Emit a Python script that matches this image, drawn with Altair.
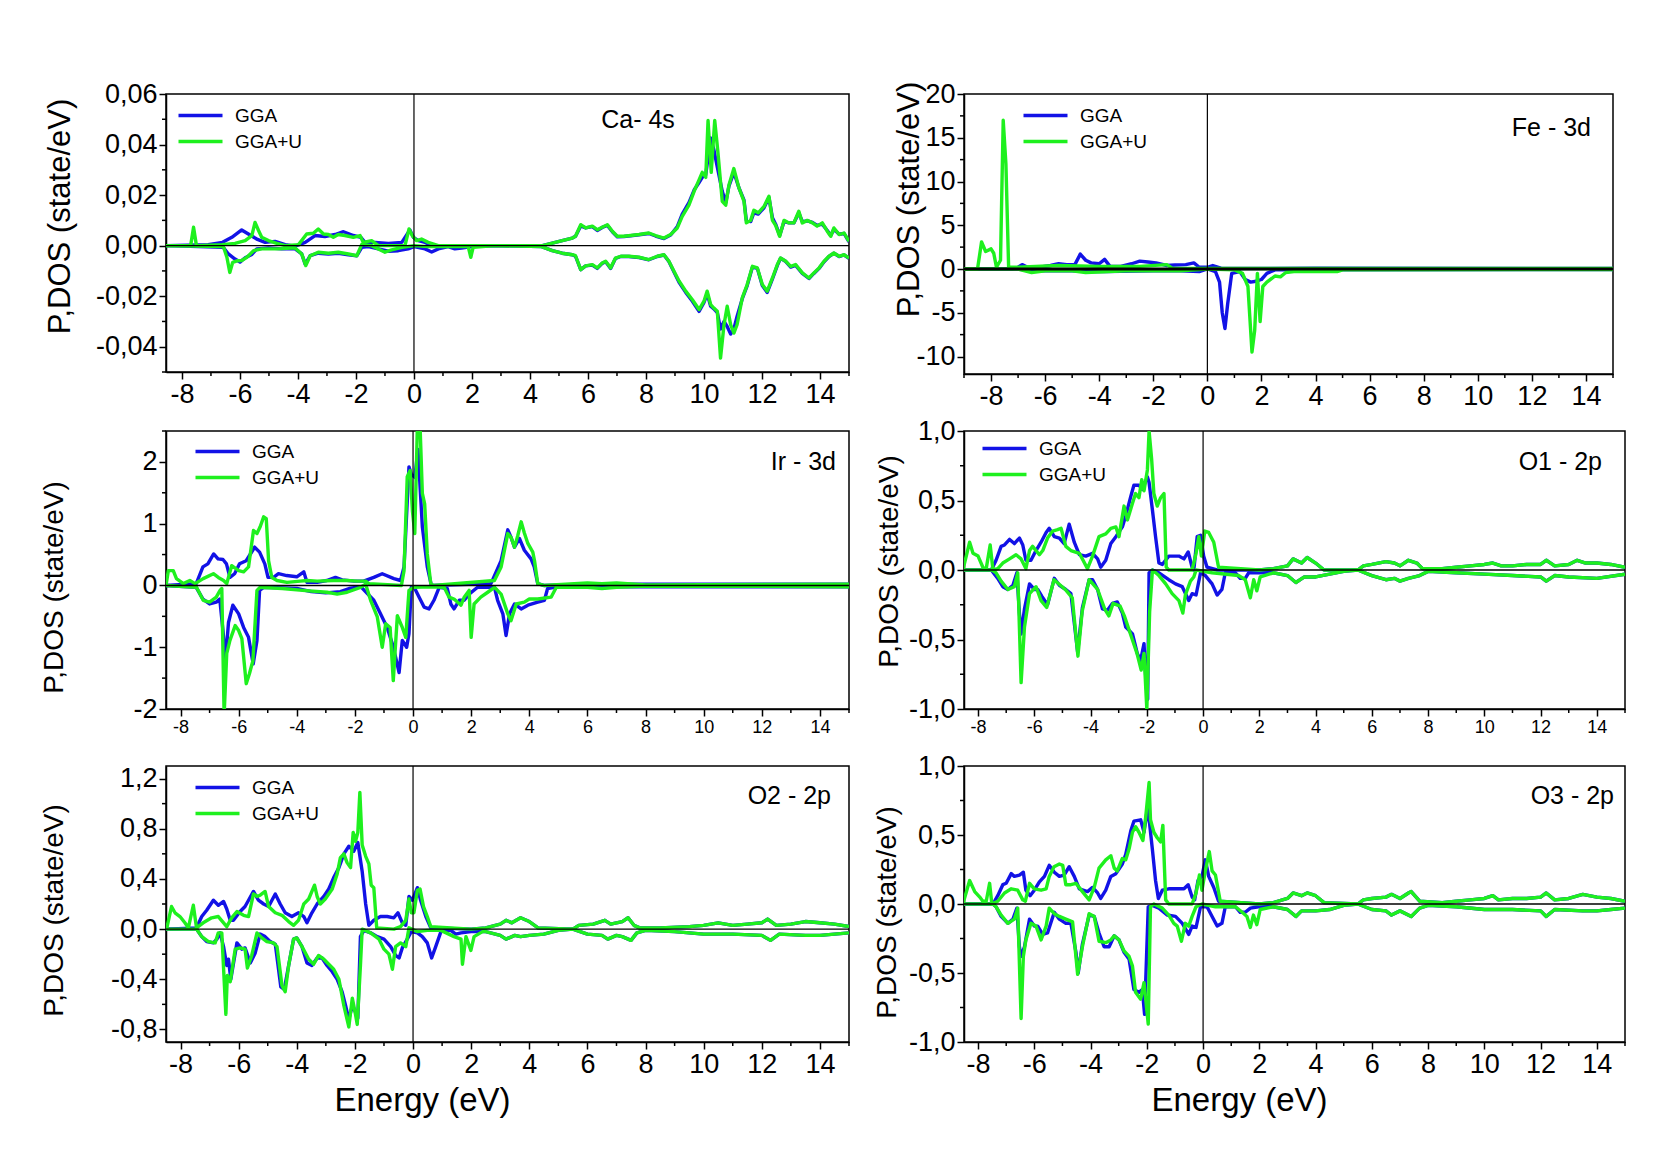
import altair as alt
import pandas as pd

BLUE = "#1212e6"
GREEN = "#1ef01e"
NARROW = "Liberation Sans Narrow, Arial Narrow, Liberation Sans, sans-serif"
REG = "Liberation Sans, Arial, sans-serif"
METHODS = ["GGA", "GGA+U"]

# ---------------- Ca - 4s ----------------
CA_GGA_UP = [[-8.55,0],[-7.1,0.0004],[-6.6,0.0013],[-6.28,0.0033],[-5.94,0.0062],[-5.71,0.0046],[-5.42,0.0026],[-5.13,0.0013],[-4.79,0.0017],[-4.44,0.0004],[-4.1,-0.0002],[-3.75,0.0013],[-3.41,0.004],[-3.07,0.0036],[-2.72,0.0044],[-2.43,0.0055],[-2.09,0.004],[-1.83,0.0033],[-1.69,0.0013],[-1.34,0.0013],[-0.88,0.0009],[-0.42,0.0013],[-0.14,0.0062],[-0.02,0.0033],[0.15,0.002],[0.38,0.0013],[0.61,0],[4.43,0],[4.77,0.001],[5.11,0.002],[5.46,0.003],[5.57,0.0037],[5.75,0.0078],[5.92,0.007],[6.15,0.0075],[6.32,0.006],[6.49,0.0072],[6.67,0.008],[6.84,0.0055],[7.01,0.0035],[7.24,0.0036],[7.47,0.0039],[7.76,0.0043],[8.1,0.0048],[8.33,0.0038],[8.62,0.0028],[8.85,0.0042],[9.08,0.0075],[9.25,0.0125],[9.48,0.017],[9.66,0.022],[9.83,0.025],[9.94,0.027],[10.06,0.028],[10.23,0.0426],[10.34,0.038],[10.46,0.031],[10.63,0.0215],[10.75,0.017],[10.86,0.0235],[11.03,0.029],[11.2,0.023],[11.38,0.018],[11.46,0.01],[11.61,0.0095],[11.72,0.013],[11.87,0.0125],[12.07,0.015],[12.24,0.019],[12.36,0.011],[12.47,0.0085],[12.61,0.004],[12.76,0.0095],[12.93,0.009],[13.1,0.009],[13.27,0.013],[13.39,0.0095],[13.56,0.0098],[13.74,0.0092],[13.9,0.008],[14.08,0.0085],[14.25,0.006],[14.37,0.004],[14.48,0.0065],[14.66,0.0045],[14.83,0.0048],[15.0,0.0015]]
CA_GGAU_UP = [[-8.55,0],[-7.7,0],[-7.6,0.0073],[-7.5,0],[-6.62,0.0004],[-6.17,0.0009],[-5.82,0.002],[-5.59,0.004],[-5.48,0.0092],[-5.36,0.006],[-5.25,0.0033],[-5.02,0.002],[-4.73,0.0009],[-4.44,0],[-3.98,0.0004],[-3.7,0.0046],[-3.47,0.0049],[-3.3,0.0066],[-3.12,0.0046],[-2.95,0.0044],[-2.78,0.0033],[-2.61,0.0044],[-2.38,0.004],[-2.09,0.0033],[-1.86,0.004],[-1.75,0.0013],[-1.46,0.002],[-1.23,0],[-0.31,0],[-0.17,0.0066],[-0.06,0.004],[0.09,0.002],[0.26,0.0026],[0.49,0.0013],[0.84,0],[4.43,0],[4.77,0.001],[5.11,0.002],[5.46,0.003],[5.57,0.0037],[5.75,0.0083],[5.92,0.007],[6.15,0.0077],[6.32,0.0063],[6.49,0.0073],[6.67,0.0083],[6.84,0.0057],[7.01,0.0037],[7.24,0.0037],[7.47,0.004],[7.76,0.0044],[8.1,0.005],[8.33,0.004],[8.62,0.003],[8.85,0.0044],[9.08,0.007],[9.25,0.0116],[9.48,0.016],[9.66,0.0215],[9.83,0.026],[9.94,0.029],[10.06,0.027],[10.14,0.0495],[10.25,0.029],[10.37,0.0495],[10.48,0.037],[10.63,0.0175],[10.75,0.016],[10.86,0.024],[11.03,0.0305],[11.2,0.023],[11.38,0.0175],[11.46,0.009],[11.61,0.01],[11.72,0.014],[11.87,0.013],[12.07,0.0155],[12.24,0.0195],[12.36,0.01],[12.47,0.008],[12.61,0.0037],[12.76,0.01],[12.93,0.009],[13.1,0.009],[13.27,0.0136],[13.39,0.009],[13.56,0.01],[13.74,0.009],[13.9,0.0077],[14.08,0.009],[14.25,0.0057],[14.37,0.0037],[14.48,0.007],[14.66,0.0044],[14.83,0.005],[15.0,0.0017]]
CA_GGA_DN = [[-8.55,0],[-6.57,-0.0007],[-6.4,-0.0033],[-6.17,-0.0053],[-6.0,-0.0065],[-5.82,-0.0048],[-5.59,-0.0035],[-5.42,-0.0013],[-5.02,-0.0009],[-4.56,-0.0013],[-4.1,-0.0013],[-3.87,-0.0033],[-3.75,-0.0073],[-3.58,-0.004],[-3.3,-0.003],[-2.95,-0.0033],[-2.61,-0.003],[-2.26,-0.0036],[-1.97,-0.004],[-1.8,-0.0007],[-1.57,-0.0004],[-1.23,-0.0013],[-0.88,-0.0022],[-0.54,-0.002],[-0.2,-0.0013],[0,-0.0004],[0.38,-0.0013],[0.61,-0.0025],[0.84,-0.0013],[1.18,-0.0004],[1.41,-0.0013],[1.64,-0.001],[1.99,-0.0004],[2.79,0],[4.4,-0.0004],[4.77,-0.002],[5.11,-0.003],[5.46,-0.0036],[5.57,-0.0042],[5.75,-0.0095],[5.92,-0.008],[6.15,-0.0077],[6.32,-0.009],[6.49,-0.007],[6.61,-0.0064],[6.78,-0.009],[6.95,-0.005],[7.13,-0.0043],[7.41,-0.0043],[7.76,-0.0047],[8.1,-0.0056],[8.39,-0.0043],[8.62,-0.0037],[8.79,-0.0063],[8.97,-0.0105],[9.14,-0.0145],[9.37,-0.0185],[9.6,-0.022],[9.83,-0.026],[10.0,-0.0225],[10.11,-0.019],[10.23,-0.024],[10.34,-0.025],[10.46,-0.0265],[10.57,-0.033],[10.69,-0.03],[10.8,-0.032],[10.92,-0.035],[11.03,-0.033],[11.14,-0.028],[11.32,-0.021],[11.49,-0.0158],[11.67,-0.0085],[11.84,-0.009],[12.01,-0.0158],[12.18,-0.0185],[12.36,-0.0132],[12.53,-0.0078],[12.64,-0.005],[12.82,-0.0063],[12.99,-0.0085],[13.16,-0.0078],[13.39,-0.011],[13.62,-0.013],[13.79,-0.011],[13.97,-0.009],[14.14,-0.0064],[14.31,-0.0043],[14.48,-0.003],[14.66,-0.0043],[14.83,-0.0037],[15.0,-0.005]]
CA_GGAU_DN = [[-8.55,0],[-6.57,-0.0004],[-6.45,-0.0046],[-6.35,-0.0106],[-6.25,-0.0066],[-6.1,-0.006],[-5.94,-0.0059],[-5.76,-0.0046],[-5.53,-0.002],[-5.25,-0.0013],[-4.67,-0.0013],[-4.1,-0.0009],[-3.87,-0.0033],[-3.73,-0.0079],[-3.58,-0.004],[-3.3,-0.0026],[-2.95,-0.003],[-2.61,-0.0026],[-2.26,-0.0033],[-1.97,-0.004],[-1.8,0.0005],[-1.46,0],[-1.23,-0.0013],[-1.0,-0.0026],[-0.77,-0.0017],[-0.42,-0.0007],[0,0],[0.49,-0.0004],[1.87,-0.0004],[1.96,-0.0046],[2.04,-0.0007],[2.79,0],[4.4,-0.0004],[4.77,-0.002],[5.11,-0.003],[5.46,-0.0036],[5.57,-0.004],[5.75,-0.0095],[5.92,-0.008],[6.15,-0.0075],[6.32,-0.0088],[6.49,-0.0069],[6.61,-0.0062],[6.78,-0.0088],[6.95,-0.0049],[7.13,-0.0042],[7.41,-0.0042],[7.76,-0.0046],[8.1,-0.0055],[8.39,-0.0042],[8.62,-0.0036],[8.79,-0.0062],[8.97,-0.0102],[9.14,-0.014],[9.37,-0.018],[9.6,-0.0214],[9.83,-0.0253],[10.0,-0.022],[10.11,-0.018],[10.23,-0.0233],[10.34,-0.0247],[10.46,-0.026],[10.57,-0.0445],[10.69,-0.0313],[10.8,-0.024],[10.92,-0.0313],[11.03,-0.0346],[11.14,-0.0313],[11.32,-0.0207],[11.49,-0.0154],[11.67,-0.0082],[11.84,-0.0088],[12.01,-0.0154],[12.18,-0.018],[12.36,-0.0128],[12.53,-0.0075],[12.64,-0.0049],[12.82,-0.0062],[12.99,-0.0082],[13.16,-0.0075],[13.39,-0.0108],[13.62,-0.0128],[13.79,-0.0108],[13.97,-0.0088],[14.14,-0.0062],[14.31,-0.0042],[14.48,-0.0029],[14.66,-0.0042],[14.83,-0.0036],[15.0,-0.0049]]

# ---------------- Fe - 3d ----------------
FE_GGA_UP = [[-9,0],[-7.2,0],[-7.0,0.2],[-6.85,0.5],[-6.65,0.2],[-6.2,0.2],[-5.8,0.4],[-5.5,0.6],[-5.2,0.5],[-4.9,0.5],[-4.7,1.7],[-4.5,1.0],[-4.3,0.7],[-4.0,0.6],[-3.8,1.1],[-3.6,0.3],[-3.2,0.3],[-2.8,0.6],[-2.5,0.9],[-2.2,0.8],[-1.9,0.7],[-1.5,0.4],[-1.2,0.45],[-0.8,0.5],[-0.5,0.7],[-0.3,0.2],[0,0.2],[0.2,0.4],[0.5,0.1],[0.8,0.05],[4,0.1],[15,0.05]]
FE_GGA_DN = [[-9,0],[-7,0],[-6.5,-0.2],[-5.0,-0.2],[-4.5,-0.3],[-3.8,-0.3],[-2,-0.2],[-1,-0.2],[-0.3,-0.3],[0,0],[0.3,-0.3],[0.45,-1.5],[0.55,-5],[0.65,-6.8],[0.75,-4],[0.9,-0.5],[1.2,-0.3],[1.4,-1.2],[1.6,-1.5],[1.8,-1.4],[2.0,-1.2],[2.2,-0.5],[2.5,-0.1],[4,-0.1],[15,-0.05]]
FE_GGAU_UP = [[-9,0],[-8.5,0],[-8.35,3.1],[-8.2,2.0],[-8.0,2.3],[-7.9,1.8],[-7.8,0.2],[-7.65,1.0],[-7.55,17],[-7.45,12],[-7.35,0.2],[-7.0,0.2],[-5.5,0.4],[-4,0.3],[-2.5,0.3],[-1.5,0.5],[-1.3,0.1],[0,0.05],[15,0.05]]
FE_GGAU_DN = [[-9,0],[-7,0],[-6.5,-0.4],[-6,-0.2],[-5,-0.2],[-4.5,-0.4],[-3,-0.2],[-1,-0.2],[0,0],[1.0,-0.1],[1.3,-0.5],[1.5,-2],[1.65,-9.5],[1.75,-7],[1.85,-0.5],[1.95,-6],[2.05,-2],[2.2,-1.5],[2.5,-0.8],[2.7,-0.9],[2.9,-0.4],[3.2,-0.3],[4.8,-0.3],[5.0,-0.1],[15,-0.05]]

# ---------------- Ir - 3d ----------------
IR_GGA_UP = [[-8.5,0],[-7.46,0.03],[-7.23,0.3],[-7.06,0.35],[-6.86,0.51],[-6.71,0.43],[-6.54,0.42],[-6.42,0.35],[-6.3,0.13],[-6.14,0.19],[-5.97,0.35],[-5.74,0.4],[-5.45,0.62],[-5.28,0.54],[-5.1,0.35],[-4.99,0.13],[-4.8,0.13],[-4.63,0.19],[-4.35,0.16],[-4.0,0.14],[-3.76,0.22],[-3.65,0.05],[-3.3,0.05],[-2.97,0.08],[-2.67,0.13],[-2.44,0.09],[-2.03,0.07],[-1.7,0.07],[-1.35,0.13],[-1.06,0.19],[-0.66,0.11],[-0.43,0.08],[-0.31,0.3],[-0.14,1.92],[-0.06,1.8],[0.06,1.75],[0.17,2.2],[0.32,0.95],[0.49,0.3],[0.63,0],[2.68,0.03],[3.03,0.4],[3.26,0.9],[3.37,0.78],[3.49,0.62],[3.66,0.76],[3.83,0.57],[4.06,0.43],[4.17,0.3],[4.29,0.03],[4.5,0],[6,0.02],[7,0.02],[15,0.02]]
IR_GGA_DN = [[-8.5,0],[-7.46,-0.03],[-7.23,-0.22],[-7.0,-0.3],[-6.77,-0.27],[-6.65,-0.22],[-6.54,-0.73],[-6.45,-1.2],[-6.35,-0.6],[-6.2,-0.32],[-6.0,-0.46],[-5.83,-0.68],[-5.66,-0.84],[-5.5,-1.27],[-5.37,-0.89],[-5.28,-0.08],[-5.14,-0.03],[-4.0,-0.05],[-3.5,-0.1],[-3.0,-0.12],[-2.5,-0.1],[-2.2,-0.05],[-1.8,-0.02],[-1.35,-0.24],[-1.12,-0.46],[-0.89,-0.68],[-0.71,-0.95],[-0.6,-1.16],[-0.48,-1.41],[-0.37,-0.89],[-0.22,-1.0],[-0.14,-0.78],[-0.06,-0.03],[0.03,-0.02],[0.21,-0.19],[0.38,-0.35],[0.55,-0.38],[0.72,-0.24],[0.9,-0.03],[1.18,-0.05],[1.3,-0.3],[1.41,-0.38],[1.59,-0.24],[1.76,-0.24],[1.93,-0.14],[2.22,-0.03],[2.8,-0.03],[2.91,-0.24],[3.09,-0.46],[3.2,-0.81],[3.32,-0.46],[3.49,-0.3],[3.72,-0.38],[3.95,-0.32],[4.29,-0.27],[4.52,-0.24],[4.63,-0.05],[5,-0.02],[15,-0.02]]
IR_GGAU_UP = [[-8.5,0],[-8.42,0.24],[-8.25,0.24],[-8.14,0.11],[-7.9,0.03],[-7.68,0.08],[-7.5,0.03],[-7.22,0.11],[-6.87,0.19],[-6.7,0.13],[-6.52,0.08],[-6.41,0.03],[-6.24,0.32],[-6.0,0.24],[-5.83,0.22],[-5.66,0.3],[-5.49,0.89],[-5.37,0.84],[-5.26,0.95],[-5.14,1.11],[-5.05,1.08],[-4.97,0.4],[-4.86,0.13],[-4.68,0.08],[-4.34,0.05],[-3.88,0.07],[-3.65,0.08],[-3.3,0.07],[-2.73,0.08],[-2.27,0.08],[-1.92,0.07],[-1.63,0.07],[-1.52,0.03],[-0.4,0],[-0.31,0.24],[-0.2,1.76],[-0.1,1.86],[-0.02,1.2],[0.06,0.84],[0.15,2.6],[0.24,2.6],[0.32,1.49],[0.4,1.32],[0.49,0.51],[0.61,0.03],[0.7,0],[2.8,0.08],[3.03,0.3],[3.26,0.84],[3.37,0.78],[3.49,0.62],[3.6,0.8],[3.72,1.03],[3.83,0.85],[3.95,0.68],[4.12,0.54],[4.18,0.4],[4.29,0.03],[4.5,0],[6,0.04],[6.5,0.03],[7,0.04],[8,0.01],[15,0.02]]
IR_GGAU_DN = [[-8.5,0],[-7.45,-0.03],[-7.22,-0.24],[-7.0,-0.27],[-6.77,-0.19],[-6.64,-0.08],[-6.58,-0.05],[-6.5,-2.1],[-6.41,-1.1],[-6.3,-0.89],[-6.12,-0.65],[-6.0,-0.73],[-5.89,-0.86],[-5.74,-1.59],[-5.63,-1.43],[-5.51,-1.22],[-5.37,-0.08],[-5.26,-0.03],[-4.5,-0.05],[-3.8,-0.08],[-2.96,-0.11],[-2.61,-0.14],[-2.27,-0.11],[-1.81,-0.03],[-1.63,0.02],[-1.46,-0.24],[-1.23,-0.51],[-1.06,-1.0],[-0.94,-0.62],[-0.79,-0.68],[-0.68,-1.54],[-0.54,-0.49],[-0.37,-0.68],[-0.25,-0.84],[-0.14,-0.08],[0.03,-0.03],[0.6,-0.02],[1.07,-0.03],[1.24,-0.19],[1.41,-0.22],[1.65,-0.32],[1.76,-0.19],[1.93,-0.08],[2.0,-0.84],[2.1,-0.3],[2.33,-0.19],[2.57,-0.11],[2.8,-0.03],[3.03,-0.14],[3.26,-0.46],[3.37,-0.57],[3.55,-0.3],[3.83,-0.27],[4.0,-0.22],[4.29,-0.22],[4.75,-0.19],[4.93,-0.03],[6,-0.03],[6.5,-0.05],[7,-0.03],[8,-0.01],[15,-0.02]]

# ---------------- O1 - 2p ----------------
O1_UP_TAIL = [[2.5,0.01],[3.0,0.03],[3.2,0.08],[3.5,0.05],[3.7,0.09],[4.0,0.05],[4.3,0.0],[5.5,0.0],[5.7,0.03],[6.0,0.04],[6.5,0.06],[6.8,0.05],[7.0,0.03],[7.3,0.07],[7.6,0.05],[7.8,0.01],[8.5,0.01],[9.0,0.02],[9.5,0.03],[10.0,0.04],[10.3,0.05],[10.6,0.03],[11.0,0.03],[11.5,0.04],[12.0,0.04],[12.2,0.07],[12.5,0.03],[13.0,0.04],[13.3,0.07],[13.6,0.05],[14.0,0.05],[14.5,0.04],[15.0,0.02]]
O1_DN_TAIL = [[2.5,-0.02],[3.0,-0.04],[3.3,-0.09],[3.6,-0.05],[4.0,-0.05],[4.5,-0.03],[5.0,-0.01],[5.5,0],[6.0,-0.04],[6.5,-0.07],[6.8,-0.06],[7.0,-0.08],[7.3,-0.06],[7.7,-0.04],[8.0,-0.01],[9.0,-0.02],[10.0,-0.03],[11.0,-0.04],[12.0,-0.05],[12.2,-0.08],[12.5,-0.04],[13.0,-0.05],[14.0,-0.06],[15.0,-0.03]]
O1_GGA_UP = [[-8.5,0],[-7.53,0],[-7.36,0.07],[-7.18,0.17],[-7.06,0.18],[-6.88,0.22],[-6.71,0.19],[-6.53,0.23],[-6.41,0.18],[-6.3,0.07],[-6.12,0.07],[-5.94,0.14],[-5.76,0.2],[-5.58,0.27],[-5.47,0.3],[-5.29,0.24],[-5.11,0.23],[-4.94,0.19],[-4.76,0.33],[-4.58,0.2],[-4.4,0.11],[-4.17,0.1],[-3.93,0.12],[-3.75,0.08],[-3.64,0.02],[-3.46,0.07],[-3.28,0.19],[-3.1,0.24],[-2.87,0.31],[-2.75,0.39],[-2.57,0.53],[-2.46,0.61],[-2.28,0.61],[-2.16,0.58],[-1.98,0.67],[-1.92,0.63],[-1.8,0.43],[-1.69,0.24],[-1.57,0.05],[-1.45,0.04],[-1.22,0.1],[-0.86,0.1],[-0.68,0.08],[-0.53,0.13],[-0.39,0.02],[-0.33,0],[-0.21,0.24],[-0.09,0.25],[0.02,0.1],[0.14,0.02],[0.5,0],[2.0,0]]
O1_GGA_DN = [[-8.5,0],[-7.53,0],[-7.3,-0.06],[-7.12,-0.12],[-6.94,-0.14],[-6.76,-0.11],[-6.62,-0.02],[-6.53,-0.31],[-6.47,-0.46],[-6.35,-0.28],[-6.17,-0.1],[-6.0,-0.14],[-5.88,-0.14],[-5.73,-0.19],[-5.53,-0.25],[-5.29,-0.06],[-5.11,-0.11],[-4.88,-0.14],[-4.7,-0.17],[-4.46,-0.59],[-4.29,-0.27],[-4.05,-0.07],[-3.93,-0.07],[-3.75,-0.14],[-3.58,-0.28],[-3.4,-0.29],[-3.22,-0.24],[-3.05,-0.23],[-2.87,-0.31],[-2.75,-0.41],[-2.51,-0.46],[-2.34,-0.6],[-2.22,-0.65],[-2.1,-0.53],[-2.02,-0.84],[-1.97,-0.93],[-1.92,-0.02],[-1.8,0],[-1.57,-0.02],[-1.22,-0.07],[-0.98,-0.1],[-0.74,-0.12],[-0.51,-0.22],[-0.39,-0.17],[-0.25,-0.18],[-0.09,-0.02],[0.08,-0.04],[0.32,-0.1],[0.5,-0.18],[0.67,-0.14],[0.79,-0.02],[1.15,-0.02],[1.32,-0.06],[1.5,-0.06],[1.62,-0.02],[1.97,-0.02]]
O1_GGAU_UP = [[-8.54,0],[-8.3,0.2],[-8.18,0.12],[-8.0,0.1],[-7.83,0.02],[-7.71,0.01],[-7.57,0.18],[-7.47,0],[-7.3,0.01],[-7.12,0.05],[-6.88,0.08],[-6.65,0.11],[-6.47,0.08],[-6.3,0.01],[-6.17,0.14],[-6.06,0.17],[-5.82,0.11],[-5.7,0.14],[-5.53,0.23],[-5.35,0.28],[-5.17,0.29],[-5.05,0.3],[-4.88,0.17],[-4.7,0.14],[-4.4,0.12],[-4.11,0.01],[-3.93,0.1],[-3.7,0.24],[-3.46,0.26],[-3.28,0.3],[-3.1,0.31],[-2.99,0.24],[-2.81,0.46],[-2.69,0.36],[-2.51,0.48],[-2.4,0.55],[-2.28,0.52],[-2.18,0.65],[-2.1,0.57],[-1.98,0.72],[-1.92,1.0],[-1.83,0.8],[-1.75,0.55],[-1.63,0.46],[-1.51,0.52],[-1.39,0.55],[-1.31,0.02],[-1.22,0],[-0.39,0],[-0.25,0.12],[-0.15,0.24],[-0.06,0.1],[0.06,0.28],[0.2,0.27],[0.38,0.2],[0.55,0.02],[2.0,0]]
O1_GGAU_DN = [[-8.5,0],[-7.5,0],[-7.36,-0.02],[-7.18,-0.08],[-6.94,-0.14],[-6.71,-0.12],[-6.59,-0.02],[-6.47,-0.81],[-6.35,-0.41],[-6.17,-0.17],[-5.94,-0.12],[-5.76,-0.22],[-5.56,-0.27],[-5.3,-0.07],[-4.9,-0.14],[-4.65,-0.2],[-4.45,-0.62],[-4.3,-0.3],[-4.05,-0.07],[-3.75,-0.14],[-3.5,-0.28],[-3.35,-0.33],[-3.2,-0.24],[-2.95,-0.26],[-2.8,-0.33],[-2.6,-0.45],[-2.35,-0.6],[-2.2,-0.72],[-2.1,-0.6],[-2.0,-1.0],[-1.9,-0.3],[-1.8,0],[-1.57,-0.04],[-1.33,-0.1],[-1.1,-0.17],[-0.86,-0.22],[-0.72,-0.31],[-0.63,-0.18],[-0.45,-0.08],[-0.33,-0.05],[-0.25,0],[0.32,-0.02],[1.26,-0.04],[1.5,-0.07],[1.68,-0.2],[1.8,-0.07],[1.91,-0.15],[2.03,-0.05]]

# ---------------- O2 - 2p ----------------
O2_UP_TAIL = [[2.5,0.01],[3.0,0.04],[3.2,0.07],[3.4,0.05],[3.7,0.09],[4.0,0.06],[4.3,0.01],[5.5,0.0],[5.7,0.03],[6.2,0.04],[6.6,0.07],[6.8,0.04],[7.2,0.06],[7.4,0.09],[7.6,0.03],[7.8,0.01],[8.5,0.01],[9.5,0.02],[10.0,0.03],[10.5,0.05],[11.0,0.03],[11.5,0.04],[12.0,0.05],[12.2,0.08],[12.5,0.03],[13.0,0.04],[13.5,0.06],[14.0,0.05],[14.5,0.04],[15.0,0.02]]
O2_DN_TAIL = [[2.5,-0.02],[3.0,-0.05],[3.2,-0.08],[3.5,-0.05],[3.7,-0.06],[4.0,-0.05],[4.5,-0.04],[5.0,-0.01],[5.5,0],[6.0,-0.04],[6.5,-0.05],[6.7,-0.08],[7.0,-0.05],[7.2,-0.06],[7.5,-0.09],[7.7,-0.03],[8.0,-0.01],[9.0,-0.02],[10.0,-0.04],[11.0,-0.04],[12.0,-0.05],[12.3,-0.09],[12.6,-0.04],[13.5,-0.05],[14.0,-0.05],[14.5,-0.04],[15.0,-0.03]]
O2_GGA_UP = [[-8.5,0],[-7.45,0.01],[-7.27,0.1],[-7.1,0.15],[-6.87,0.23],[-6.7,0.19],[-6.52,0.22],[-6.41,0.16],[-6.29,0.07],[-6.18,0.07],[-5.95,0.14],[-5.78,0.18],[-5.66,0.23],[-5.49,0.3],[-5.32,0.23],[-5.14,0.2],[-4.97,0.18],[-4.74,0.28],[-4.57,0.2],[-4.4,0.13],[-4.17,0.1],[-3.94,0.13],[-3.76,0.1],[-3.65,0.05],[-3.48,0.13],[-3.3,0.2],[-3.07,0.26],[-2.9,0.32],[-2.73,0.41],[-2.55,0.49],[-2.38,0.6],[-2.21,0.66],[-2.04,0.62],[-1.9,0.69],[-1.75,0.46],[-1.63,0.2],[-1.52,0.03],[-1.35,0.07],[-1.12,0.1],[-0.89,0.1],[-0.66,0.09],[-0.52,0.13],[-0.37,0.05],[-0.25,0.03],[-0.14,0.26],[-0.02,0.23],[0.15,0.33],[0.26,0.23],[0.44,0.1],[0.61,0.01],[2.0,0]]
O2_GGA_DN = [[-8.5,0],[-7.45,0],[-7.27,-0.06],[-7.1,-0.1],[-6.87,-0.11],[-6.75,-0.08],[-6.64,-0.03],[-6.52,-0.14],[-6.41,-0.29],[-6.35,-0.24],[-6.27,-0.4],[-6.06,-0.11],[-5.89,-0.16],[-5.78,-0.15],[-5.6,-0.27],[-5.43,-0.19],[-5.26,-0.04],[-5.09,-0.06],[-4.91,-0.1],[-4.74,-0.12],[-4.55,-0.46],[-4.43,-0.48],[-4.28,-0.29],[-4.11,-0.08],[-4.0,-0.07],[-3.82,-0.14],[-3.65,-0.27],[-3.48,-0.29],[-3.3,-0.23],[-3.13,-0.23],[-2.96,-0.29],[-2.78,-0.34],[-2.61,-0.4],[-2.44,-0.5],[-2.32,-0.61],[-2.21,-0.72],[-2.09,-0.61],[-1.98,-0.66],[-1.9,-0.71],[-1.81,-0.06],[-1.69,-0.01],[-1.46,-0.03],[-1.23,-0.06],[-1.0,-0.08],[-0.77,-0.14],[-0.6,-0.21],[-0.48,-0.23],[-0.37,-0.15],[-0.2,-0.08],[-0.06,-0.02],[0.15,-0.03],[0.32,-0.06],[0.49,-0.11],[0.64,-0.23],[0.78,-0.14],[0.96,-0.02],[1.3,-0.01],[1.47,-0.04],[1.65,-0.03],[2.0,-0.02]]
O2_GGAU_UP = [[-8.48,0],[-8.31,0.18],[-8.19,0.13],[-8.02,0.1],[-7.85,0.05],[-7.73,0.01],[-7.56,0.19],[-7.45,0.01],[-7.22,0.05],[-6.93,0.09],[-6.7,0.1],[-6.41,0.02],[-6.24,0.09],[-6.06,0.14],[-5.83,0.11],[-5.66,0.1],[-5.49,0.28],[-5.37,0.26],[-5.26,0.27],[-5.09,0.3],[-4.97,0.18],[-4.74,0.13],[-4.51,0.11],[-4.28,0.06],[-4.11,0.03],[-3.94,0.07],[-3.76,0.2],[-3.59,0.24],[-3.39,0.35],[-3.3,0.26],[-3.19,0.2],[-3.02,0.24],[-2.9,0.28],[-2.78,0.32],[-2.61,0.44],[-2.5,0.57],[-2.38,0.6],[-2.27,0.53],[-2.15,0.49],[-2.06,0.77],[-1.98,0.7],[-1.9,0.77],[-1.83,1.09],[-1.75,0.67],[-1.63,0.58],[-1.52,0.52],[-1.44,0.35],[-1.35,0.33],[-1.25,0.01],[-0.66,0],[-0.43,0.02],[-0.25,0.07],[-0.14,0.24],[-0.06,0.13],[0.03,0.13],[0.15,0.31],[0.24,0.32],[0.36,0.18],[0.49,0.1],[0.61,0.02],[2.0,0]]
O2_GGAU_DN = [[-8.5,0],[-7.45,0],[-7.27,-0.06],[-7.04,-0.1],[-6.81,-0.11],[-6.7,-0.03],[-6.58,-0.03],[-6.44,-0.68],[-6.39,-0.37],[-6.29,-0.42],[-6.12,-0.16],[-5.95,-0.15],[-5.78,-0.16],[-5.7,-0.31],[-5.55,-0.21],[-5.37,-0.03],[-5.2,-0.07],[-5.03,-0.1],[-4.8,-0.11],[-4.68,-0.14],[-4.51,-0.45],[-4.4,-0.5],[-4.28,-0.29],[-4.11,-0.08],[-4.0,-0.07],[-3.82,-0.14],[-3.59,-0.24],[-3.42,-0.28],[-3.25,-0.21],[-3.07,-0.24],[-2.9,-0.28],[-2.73,-0.32],[-2.55,-0.4],[-2.38,-0.61],[-2.21,-0.78],[-2.09,-0.55],[-1.98,-0.68],[-1.92,-0.76],[-1.81,-0.29],[-1.75,0],[-1.46,-0.03],[-1.17,-0.08],[-1.0,-0.16],[-0.83,-0.2],[-0.71,-0.32],[-0.6,-0.14],[-0.43,-0.11],[-0.25,-0.14],[-0.14,0.01],[0.15,-0.02],[0.49,-0.01],[0.96,-0.01],[1.41,-0.06],[1.65,-0.08],[1.7,-0.28],[1.82,-0.06],[1.99,-0.17],[2.1,-0.06],[2.39,-0.02]]

# ---------------- O3 - 2p ----------------
O3_UP_TAIL = [[2.5,0.01],[3.0,0.04],[3.2,0.08],[3.5,0.06],[3.7,0.08],[4.0,0.06],[4.3,0.01],[5.5,0.0],[5.7,0.03],[6.0,0.04],[6.5,0.05],[6.7,0.07],[7.0,0.04],[7.3,0.08],[7.4,0.09],[7.7,0.02],[8.5,0.01],[9.0,0.02],[9.5,0.03],[10.0,0.04],[10.3,0.06],[10.5,0.03],[11.0,0.04],[11.5,0.04],[12.0,0.05],[12.2,0.08],[12.5,0.03],[13.0,0.04],[13.5,0.07],[14.0,0.05],[14.5,0.04],[15.0,0.02]]
O3_DN_TAIL = [[2.5,-0.02],[3.0,-0.04],[3.3,-0.09],[3.5,-0.05],[4.0,-0.05],[4.5,-0.04],[5.0,-0.01],[5.5,0],[6.0,-0.04],[6.5,-0.05],[6.7,-0.08],[7.0,-0.05],[7.4,-0.09],[7.7,-0.03],[8.0,-0.01],[9.0,-0.02],[10.0,-0.04],[11.0,-0.04],[12.0,-0.05],[12.2,-0.09],[12.5,-0.04],[13.5,-0.05],[14.0,-0.05],[14.5,-0.04],[15.0,-0.03]]
O3_GGA_UP = [[-8.5,0],[-7.47,0],[-7.3,0.06],[-7.12,0.14],[-7.0,0.15],[-6.82,0.22],[-6.71,0.2],[-6.53,0.21],[-6.39,0.23],[-6.3,0.1],[-6.15,0.06],[-6.0,0.1],[-5.82,0.16],[-5.64,0.2],[-5.47,0.28],[-5.29,0.23],[-5.11,0.2],[-4.94,0.21],[-4.76,0.27],[-4.58,0.2],[-4.4,0.11],[-4.11,0.09],[-3.93,0.12],[-3.75,0.08],[-3.64,0.04],[-3.46,0.1],[-3.28,0.2],[-3.1,0.22],[-2.87,0.29],[-2.75,0.36],[-2.57,0.53],[-2.46,0.6],[-2.22,0.61],[-2.1,0.52],[-1.98,0.69],[-1.9,0.58],[-1.8,0.39],[-1.69,0.17],[-1.59,0.04],[-1.45,0.1],[-1.22,0.11],[-0.86,0.11],[-0.68,0.11],[-0.53,0.14],[-0.39,0.05],[-0.3,0.03],[-0.18,0.17],[-0.04,0.2],[0.08,0.32],[0.2,0.2],[0.38,0.12],[0.55,0.02],[2.0,0]]
O3_GGA_DN = [[-8.5,0],[-7.47,0],[-7.36,-0.02],[-7.18,-0.09],[-6.94,-0.14],[-6.76,-0.11],[-6.62,-0.03],[-6.53,-0.31],[-6.47,-0.38],[-6.35,-0.31],[-6.17,-0.11],[-6.0,-0.16],[-5.88,-0.16],[-5.7,-0.22],[-5.53,-0.21],[-5.29,-0.06],[-5.11,-0.11],[-4.88,-0.14],[-4.7,-0.14],[-4.52,-0.35],[-4.44,-0.5],[-4.29,-0.29],[-4.05,-0.08],[-3.87,-0.09],[-3.7,-0.21],[-3.52,-0.31],[-3.34,-0.31],[-3.16,-0.23],[-2.99,-0.26],[-2.81,-0.35],[-2.63,-0.4],[-2.46,-0.62],[-2.28,-0.64],[-2.16,-0.62],[-2.08,-0.8],[-1.95,-0.02],[-1.8,-0.01],[-1.57,-0.03],[-1.28,-0.08],[-0.98,-0.09],[-0.74,-0.14],[-0.51,-0.22],[-0.39,-0.16],[-0.25,-0.17],[-0.09,-0.02],[0.14,-0.02],[0.32,-0.09],[0.5,-0.16],[0.67,-0.14],[0.79,-0.02],[1.15,-0.02],[1.32,-0.06],[1.5,-0.06],[1.68,-0.03],[1.97,-0.02]]
O3_GGAU_UP = [[-8.54,0],[-8.3,0.17],[-8.12,0.09],[-7.94,0.05],[-7.83,0.02],[-7.71,0.02],[-7.59,0.15],[-7.51,0],[-7.3,0.02],[-7.06,0.08],[-6.82,0.11],[-6.59,0.1],[-6.41,0.03],[-6.32,0.02],[-6.17,0.15],[-6.0,0.11],[-5.76,0.1],[-5.58,0.11],[-5.47,0.2],[-5.3,0.27],[-5.11,0.29],[-4.99,0.28],[-4.88,0.14],[-4.7,0.14],[-4.52,0.15],[-4.29,0.09],[-4.05,0.03],[-3.87,0.12],[-3.7,0.26],[-3.46,0.32],[-3.28,0.35],[-3.16,0.26],[-3.05,0.24],[-2.87,0.33],[-2.75,0.32],[-2.63,0.4],[-2.51,0.52],[-2.4,0.56],[-2.28,0.52],[-2.14,0.46],[-2.04,0.63],[-1.92,0.88],[-1.87,0.61],[-1.75,0.52],[-1.63,0.48],[-1.51,0.45],[-1.43,0.57],[-1.33,0.03],[-1.22,0],[-0.39,0],[-0.25,0.08],[-0.13,0.21],[-0.04,0.1],[0.08,0.24],[0.22,0.38],[0.32,0.24],[0.44,0.21],[0.61,0.02],[2.0,0]]
O3_GGAU_DN = [[-8.5,0],[-7.47,0],[-7.36,-0.02],[-7.18,-0.08],[-6.94,-0.14],[-6.71,-0.11],[-6.59,-0.03],[-6.47,-0.83],[-6.39,-0.38],[-6.3,-0.26],[-6.12,-0.14],[-5.94,-0.16],[-5.76,-0.26],[-5.58,-0.16],[-5.47,-0.03],[-5.29,-0.07],[-5.11,-0.09],[-4.88,-0.11],[-4.64,-0.13],[-4.46,-0.51],[-4.29,-0.31],[-4.05,-0.07],[-3.87,-0.09],[-3.7,-0.27],[-3.46,-0.28],[-3.28,-0.26],[-3.16,-0.23],[-2.99,-0.26],[-2.81,-0.34],[-2.63,-0.38],[-2.51,-0.45],[-2.4,-0.64],[-2.22,-0.69],[-2.1,-0.57],[-1.95,-0.87],[-1.87,-0.02],[-1.75,0],[-1.45,-0.03],[-1.22,-0.08],[-1.04,-0.14],[-0.92,-0.16],[-0.77,-0.27],[-0.63,-0.14],[-0.51,-0.16],[-0.39,-0.09],[-0.25,-0.02],[-0.04,0],[0.44,-0.02],[1.15,-0.02],[1.39,-0.06],[1.56,-0.09],[1.68,-0.17],[1.79,-0.08],[1.91,-0.15],[2.03,-0.04]]

# Axis tick positions: labelled (major) and unlabelled (minor)
CA_MAJOR = {-0.04: "-0,04", -0.02: "-0,02", 0.0: "0,00", 0.02: "0,02", 0.04: "0,04", 0.06: "0,06"}
CA_MINOR = [-0.05, -0.03, -0.01, 0.01, 0.03, 0.05]
FE_MAJOR = {-10: "-10", -5: "-5", 0: "0", 5: "5", 10: "10", 15: "15", 20: "20"}
FE_MINOR = [-7.5, -2.5, 2.5, 7.5, 12.5, 17.5]
IR_MAJOR = {-2: "-2", -1: "-1", 0: "0", 1: "1", 2: "2"}
IR_MINOR = [-1.5, -0.5, 0.5, 1.5, 2.5]
O_MAJOR = {-1: "-1,0", -0.5: "-0,5", 0: "0,0", 0.5: "0,5", 1: "1,0"}
O_MINOR = [-0.75, -0.25, 0.25, 0.75]
O2_MAJOR = {-0.8: "-0,8", -0.4: "-0,4", 0: "0,0", 0.4: "0,4", 0.8: "0,8", 1.2: "1,2"}
O2_MINOR = [-0.6, -0.2, 0.2, 0.6, 1.0]


def frame(curves):
    rows = []
    for (method, spin), pts in curves.items():
        for i, (e, v) in enumerate(pts):
            rows.append({"E": e, "v": v, "method": method, "key": method + "_" + spin, "i": i})
    return pd.DataFrame(rows)


def lab_expr(labels):
    parts = [f"abs(datum.value - ({k})) < 1e-9 ? '{s}' : " for k, s in labels.items()]
    return "".join(parts) + "''"


def panel(curves, xdom, ydom, ymajor, yminor, w, h, label, lab_x, lab_y, lab_align,
          yt_x, yt_y, yt_size, xlab_size, ylab_size, legend_xy=None, xtitle=None, xt_x=0,
          zero_w=1.4):
    df = frame(curves)
    xmajor = {k: str(k) for k in range(-8, 15, 2)}
    xminor = [k for k in range(-9, 16, 2) if xdom[0] <= k <= xdom[1]]
    x_kw = dict(
        values=list(xmajor.keys()), grid=False, labelOverlap=False, labelFlush=False,
        labelExpr=lab_expr(xmajor), tickSize=7, labelFontSize=xlab_size, labelPadding=2,
    )
    if xtitle:
        x_kw.update(title=xtitle, titleX=xt_x, titleY=58, titleAlign="center", titleBaseline="middle",
                    titleFontSize=33, titleFont=REG, titleFontWeight="normal")
    else:
        x_kw.update(title=None)
    x_axis = alt.Axis(**x_kw)
    y_axis = alt.Axis(
        values=list(ymajor.keys()), grid=False, labelOverlap=False, labelFlush=False,
        labelExpr=lab_expr(ymajor), tickSize=7, labelFontSize=ylab_size, labelPadding=2,
        title="P,DOS (state/eV)", titleFont=REG, titleFontWeight="normal", titleFontSize=yt_size,
        titleX=yt_x, titleY=yt_y, titleAngle=270, titleAlign="center", titleBaseline="middle",
    )
    xs = alt.Scale(domain=xdom, nice=False, zero=False)
    ys = alt.Scale(domain=ydom, nice=False, zero=False)
    cs = alt.Scale(domain=METHODS, range=[BLUE, GREEN])
    if legend_xy is None:
        leg = None
    else:
        leg = alt.Legend(orient="none", legendX=legend_xy[0], legendY=legend_xy[1], title=None,
                         symbolType="M-4,0L4,0", symbolSize=121, symbolStrokeWidth=3.5,
                         labelOffset=25, labelFontSize=19, labelFont=REG, labelColor="black",
                         rowPadding=6, padding=0, labelLimit=200)
    layers = []
    for m in METHODS:
        layers.append(
            alt.Chart(df[df["method"] == m]).mark_line(strokeWidth=3.4, clip=True, strokeJoin="round")
            .encode(x=alt.X("E:Q", scale=xs, axis=x_axis),
                    y=alt.Y("v:Q", scale=ys, axis=y_axis),
                    color=alt.Color("method:N", scale=cs, legend=leg),
                    detail="key:N", order="i:Q")
        )
    # minor ticks (outside the frame, positioned through the scales)
    ymin_t = alt.Chart(pd.DataFrame({"v": yminor})).mark_rule(
        color="black", strokeWidth=1.5, clip=False).encode(
        y=alt.Y("v:Q", scale=ys), x=alt.value(-4), x2=alt.value(0))
    xmin_t = alt.Chart(pd.DataFrame({"E": xminor})).mark_rule(
        color="black", strokeWidth=1.5, clip=False).encode(
        x=alt.X("E:Q", scale=xs), y=alt.value(h), y2=alt.value(h + 4))
    hz = alt.Chart(pd.DataFrame({"v": [0.0]})).mark_rule(color="black", strokeWidth=zero_w).encode(
        y=alt.Y("v:Q", scale=ys))
    vt = alt.Chart(pd.DataFrame({"E": [0.0]})).mark_rule(color="black", strokeWidth=1.2).encode(
        x=alt.X("E:Q", scale=xs))
    txt = alt.Chart(pd.DataFrame({"t": [label]})).mark_text(
        align=lab_align, baseline="middle", fontSize=25, font=REG, color="black").encode(
        text="t:N", x=alt.value(lab_x), y=alt.value(lab_y))
    return alt.layer(*layers, ymin_t, xmin_t, hz, vt, txt).properties(width=w, height=h)


tl = panel({("GGA", "up"): CA_GGA_UP, ("GGA", "dn"): CA_GGA_DN,
            ("GGA+U", "up"): CA_GGAU_UP, ("GGA+U", "dn"): CA_GGAU_DN},
           [-8.55, 15], [-0.05, 0.06], CA_MAJOR, CA_MINOR, 683, 278,
           "Ca- 4s", 472, 26, "center", -106, 122, 31, 27, 27, legend_xy=(25, 12))
tr = panel({("GGA", "up"): FE_GGA_UP, ("GGA", "dn"): FE_GGA_DN,
            ("GGA+U", "up"): FE_GGAU_UP, ("GGA+U", "dn"): FE_GGAU_DN},
           [-9, 15], [-12, 20], FE_MAJOR, FE_MINOR, 649, 280,
           "Fe - 3d", 627, 34, "right", -55, 105, 31, 27, 27, legend_xy=(72, 12), zero_w=3)
ml = panel({("GGA", "up"): IR_GGA_UP, ("GGA", "dn"): IR_GGA_DN,
            ("GGA+U", "up"): IR_GGAU_UP, ("GGA+U", "dn"): IR_GGAU_DN},
           [-8.5, 15], [-2, 2.5], IR_MAJOR, IR_MINOR, 683, 278,
           "Ir - 3d", 670, 31, "right", -112, 156, 28, 18, 27, legend_xy=(42, 11))
mr = panel({("GGA", "up"): O1_GGA_UP + O1_UP_TAIL, ("GGA", "dn"): O1_GGA_DN + O1_DN_TAIL,
            ("GGA+U", "up"): O1_GGAU_UP + O1_UP_TAIL, ("GGA+U", "dn"): O1_GGAU_DN + O1_DN_TAIL},
           [-8.5, 15], [-1, 1], O_MAJOR, O_MINOR, 661, 278,
           "O1 - 2p", 638, 31, "right", -75, 130, 28, 18, 27, legend_xy=(31, 8))
bl = panel({("GGA", "up"): O2_GGA_UP + O2_UP_TAIL, ("GGA", "dn"): O2_GGA_DN + O2_DN_TAIL,
            ("GGA+U", "up"): O2_GGAU_UP + O2_UP_TAIL, ("GGA+U", "dn"): O2_GGAU_DN + O2_DN_TAIL},
           [-8.5, 15], [-0.9, 1.3], O2_MAJOR, O2_MINOR, 683, 276,
           "O2 - 2p", 665, 30, "right", -112, 144, 28, 27, 27, legend_xy=(42, 12),
           xtitle="Energy (eV)", xt_x=256)
br = panel({("GGA", "up"): O3_GGA_UP + O3_UP_TAIL, ("GGA", "dn"): O3_GGA_DN + O3_DN_TAIL,
            ("GGA+U", "up"): O3_GGAU_UP + O3_UP_TAIL, ("GGA+U", "dn"): O3_GGAU_DN + O3_DN_TAIL},
           [-8.5, 15], [-1, 1], O_MAJOR, O_MINOR, 661, 276,
           "O3 - 2p", 650, 30, "right", -77, 146, 28, 27, 27, legend_xy=None,
           xtitle="Energy (eV)", xt_x=275)

chart = alt.concat(tl, tr, ml, mr, bl, br, columns=2, spacing={"row": 57, "column": 115},
                   bounds="flush").resolve_scale(color="independent").resolve_legend(
    color="independent").properties(
    padding={"left": 31, "top": 71, "right": 5, "bottom": 5}
).configure_view(stroke="black", strokeWidth=1.5).configure_axis(
    domainColor="black", domainWidth=1.5, tickColor="black", tickWidth=1.5,
    labelColor="black", titleColor="black", labelFont=NARROW, titleFont=REG, grid=False
)

chart.save("out.html", embed_options={"renderer": "svg", "actions": False})
